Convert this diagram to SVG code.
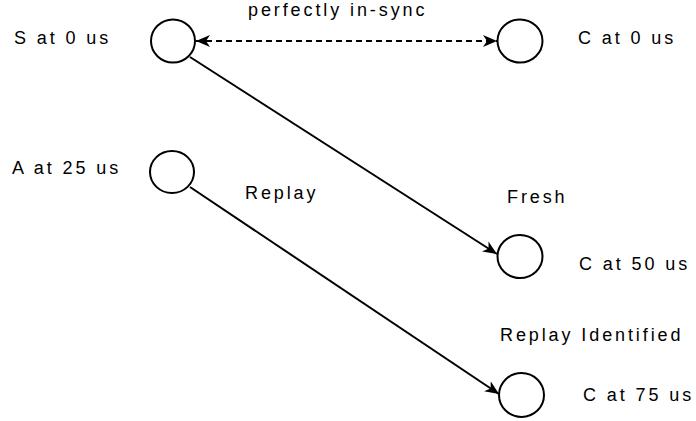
<svg xmlns="http://www.w3.org/2000/svg" width="696" height="421" viewBox="0 0 696 421">
  <style>
    .node { fill: #ffffff; stroke: #000000; stroke-width: 2; }
    .lbl { font-family: "Liberation Sans", Arial, sans-serif; font-size: 18px; letter-spacing: 2.9px; fill: #000000; }
    .edge { fill: none; stroke: #000000; stroke-width: 2; }
    .dash { stroke-dasharray: 6 4; }
  </style>
  <defs>
    <marker id="arrow" viewBox="0 0 14 12" refX="14" refY="6" markerWidth="14" markerHeight="12" markerUnits="userSpaceOnUse" orient="auto-start-reverse">
      <path d="M0,0 L14,6 L0,12 L4,6 Z" fill="#000000"/>
    </marker>
  </defs>

  <!-- connectors -->
  <g id="connectors">
    <line class="edge dash" x1="196" y1="41" x2="497" y2="41" marker-start="url(#arrow)" marker-end="url(#arrow)"/>
    <line class="edge" x1="190" y1="57" x2="497" y2="254" marker-end="url(#arrow)"/>
    <line class="edge" x1="190" y1="187" x2="499" y2="394" marker-end="url(#arrow)"/>
  </g>

  <!-- nodes -->
  <g id="node-s0">
    <ellipse class="node" cx="173" cy="41" rx="22" ry="21.5"/>
    <text class="lbl" x="14" y="44">S at 0 us</text>
  </g>
  <g id="node-c0">
    <ellipse class="node" cx="520" cy="41" rx="22.5" ry="21.5"/>
    <text class="lbl" x="578" y="44">C at 0 us</text>
  </g>
  <g id="node-a25">
    <ellipse class="node" cx="172" cy="172" rx="22" ry="21"/>
    <text class="lbl" x="12" y="174">A at 25 us</text>
  </g>
  <g id="node-c50">
    <ellipse class="node" cx="520" cy="256.5" rx="22.5" ry="21.5"/>
    <text class="lbl" x="579" y="270">C at 50 us</text>
  </g>
  <g id="node-c75">
    <ellipse class="node" cx="521.5" cy="395" rx="22.5" ry="22"/>
    <text class="lbl" x="583" y="401">C at 75 us</text>
  </g>

  <!-- edge labels -->
  <g id="edge-labels">
    <text class="lbl" x="248" y="16">perfectly in-sync</text>
    <text class="lbl" x="245" y="199">Replay</text>
    <text class="lbl" x="507" y="203">Fresh</text>
    <text class="lbl" x="500" y="341">Replay Identified</text>
  </g>
</svg>
